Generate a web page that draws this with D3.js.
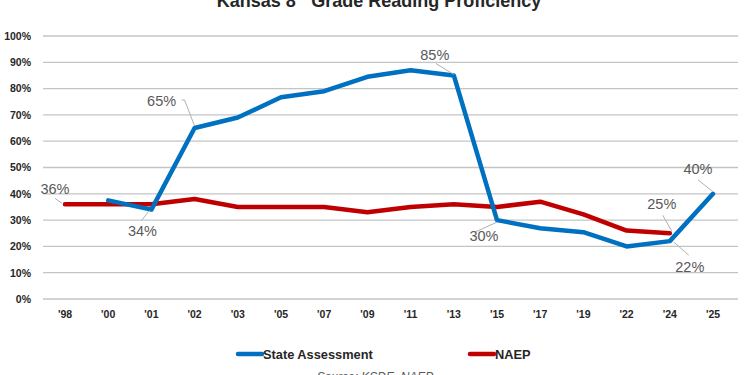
<!DOCTYPE html>
<html>
<head>
<meta charset="utf-8">
<script src="https://cdn.jsdelivr.net/npm/d3@7"></script>
<style>
  html, body { margin: 0; padding: 0; background: #fff; }
  svg { display: block; }
</style>
</head>
<body>
<svg id="chart" width="750" height="375"></svg>
<script>
// ---- data ----
const categories = ["'98","'00","'01","'02","'03","'05","'07","'09","'11","'13","'15","'17","'19","'22","'24","'25"];
const stateAssessment = [null, 37.5, 34, 65, 69, 76.7, 79, 84.5, 87, 85, 30, 26.9, 25.4, 20, 22, 40];
const naep = [36, 36, 36, 38, 35, 35, 35, 33, 35, 36, 35, 37, 32.2, 26, 25, null];
const yTicks = [0, 10, 20, 30, 40, 50, 60, 70, 80, 90, 100];
const seriesNames = ["State Assessment", "NAEP"];
const titleMain = "Kansas 8";
const titleSup = "th";
const titleRest = " Grade Reading Proficiency";
const sourceText = "Source: KSDE, NAEP";
// annotated points: series index, category index, label text
const annotations = [
  { s: 1, i: 0, text: "36%" },
  { s: 0, i: 2, text: "34%" },
  { s: 0, i: 3, text: "65%" },
  { s: 0, i: 9, text: "85%" },
  { s: 0, i: 10, text: "30%" },
  { s: 0, i: 15, text: "40%" },
  { s: 1, i: 14, text: "25%" },
  { s: 0, i: 14, text: "22%" }
];

// ---- layout / style (not data) ----
const colors = ["#0070C0", "#C00000"];
const labelLayout = [
  { dx: -10, dy: -16, leader: [[-10, -6], [-3, -1]] },
  { dx: -9,  dy: 21,  leader: [[-10, 11], [-2, 1]] },
  { dx: -33, dy: -27, leader: [[-13, -28], [-10, -28], [0, -2]] },
  { dx: -19, dy: -21, leader: [[-18, -12], [0, -1]] },
  { dx: -13, dy: 16,  leader: [[-22, 12], [0, 2]] },
  { dx: -15, dy: -25, leader: [[-15, -14], [0, -2]] },
  { dx: -8,  dy: -29, leader: [[-7, -18], [2, -2]] },
  { dx: 20,  dy: 26,  leader: [[4, 1], [19, 14]] }
];

const svg = d3.select("#chart");
const margin = { left: 43.4, right: 750 - 734.6, top: 36, bottom: 375 - 299 };
const x = d3.scaleBand().domain(categories).range([43.4, 734.6]);
const y = d3.scaleLinear().domain([0, 100]).range([299, 36]);
const cx = c => x(c) + x.bandwidth() / 2;

// gridlines
svg.append("g")
  .selectAll("line")
  .data(yTicks)
  .join("line")
  .attr("x1", 43).attr("x2", 738)
  .attr("y1", d => y(d)).attr("y2", d => y(d))
  .attr("stroke", "#c4c4c4").attr("stroke-width", 1.3);

// y axis labels
const yAxis = d3.axisLeft(y).tickValues(yTicks).tickFormat(d => d + "%").tickSize(0).tickPadding(0);
const yg = svg.append("g").attr("transform", "translate(31,0)").call(yAxis);
yg.select(".domain").remove();
yg.selectAll("text")
  .attr("font-family", "'Liberation Sans', Arial, sans-serif")
  .attr("font-weight", "bold").attr("font-size", 10.5).attr("fill", "#262626");

// x axis labels
const xAxis = d3.axisBottom(x).tickSize(0).tickPadding(0);
const xg = svg.append("g").attr("transform", "translate(0,311)").call(xAxis);
xg.select(".domain").remove();
xg.selectAll("text")
  .attr("font-family", "'Liberation Sans', Arial, sans-serif")
  .attr("font-weight", "bold").attr("font-size", 10.5).attr("fill", "#262626");

// lines
const allSeries = [stateAssessment, naep];
const line = d3.line()
  .defined(d => d.v !== null)
  .x(d => cx(d.c))
  .y(d => y(d.v));

// draw NAEP first? In reference blue appears over red at crossing '01 - draw red first then blue
[1, 0].forEach(s => {
  const pts = categories.map((c, i) => ({ c, v: allSeries[s][i] }));
  svg.append("path")
    .datum(pts)
    .attr("d", line)
    .attr("fill", "none")
    .attr("stroke", colors[s])
    .attr("stroke-width", 4.5)
    .attr("stroke-linejoin", "round")
    .attr("stroke-linecap", "round");
});

// annotations
const ag = svg.append("g");
annotations.forEach((a, k) => {
  const px = cx(categories[a.i]);
  const py = y(allSeries[a.s][a.i]);
  const lay = labelLayout[k];
  ag.append("polyline")
    .attr("points", lay.leader.map(p => (px + p[0]) + "," + (py + p[1])).join(" "))
    .attr("fill", "none").attr("stroke", "#b0b0b0").attr("stroke-width", 1);
  ag.append("text")
    .attr("x", px + lay.dx).attr("y", py + lay.dy)
    .attr("dy", "0.36em")
    .attr("text-anchor", "middle")
    .attr("font-family", "'Liberation Sans', Arial, sans-serif")
    .attr("font-size", 14.5).attr("fill", "#595959")
    .text(a.text);
});

// title
const title = svg.append("text")
  .attr("x", 379).attr("y", 6.5)
  .attr("text-anchor", "middle")
  .attr("font-family", "'Liberation Sans', Arial, sans-serif")
  .attr("font-weight", "bold").attr("font-size", 18).attr("fill", "#262626");
title.append("tspan").text(titleMain);
title.append("tspan").attr("font-size", 11).attr("dy", -7).text(titleSup);
title.append("tspan").attr("dy", 7).text(titleRest);

// legend
const legendX = [238, 470];
const lg = svg.append("g");
seriesNames.forEach((n, s) => {
  lg.append("line")
    .attr("x1", legendX[s]).attr("x2", legendX[s] + 24)
    .attr("y1", 354).attr("y2", 354)
    .attr("stroke", colors[s]).attr("stroke-width", 4.5).attr("stroke-linecap", "round");
  lg.append("text")
    .attr("x", legendX[s] + 25).attr("y", 354).attr("dy", "0.36em")
    .attr("font-family", "'Liberation Sans', Arial, sans-serif")
    .attr("font-weight", "bold").attr("font-size", 12.8).attr("fill", "#262626")
    .text(n);
});

// source
svg.append("text")
  .attr("x", 375).attr("y", 381)
  .attr("text-anchor", "middle")
  .attr("font-family", "'Liberation Sans', Arial, sans-serif")
  .attr("font-style", "italic").attr("font-size", 12).attr("fill", "#595959")
  .text(sourceText);
</script>
</body>
</html>
